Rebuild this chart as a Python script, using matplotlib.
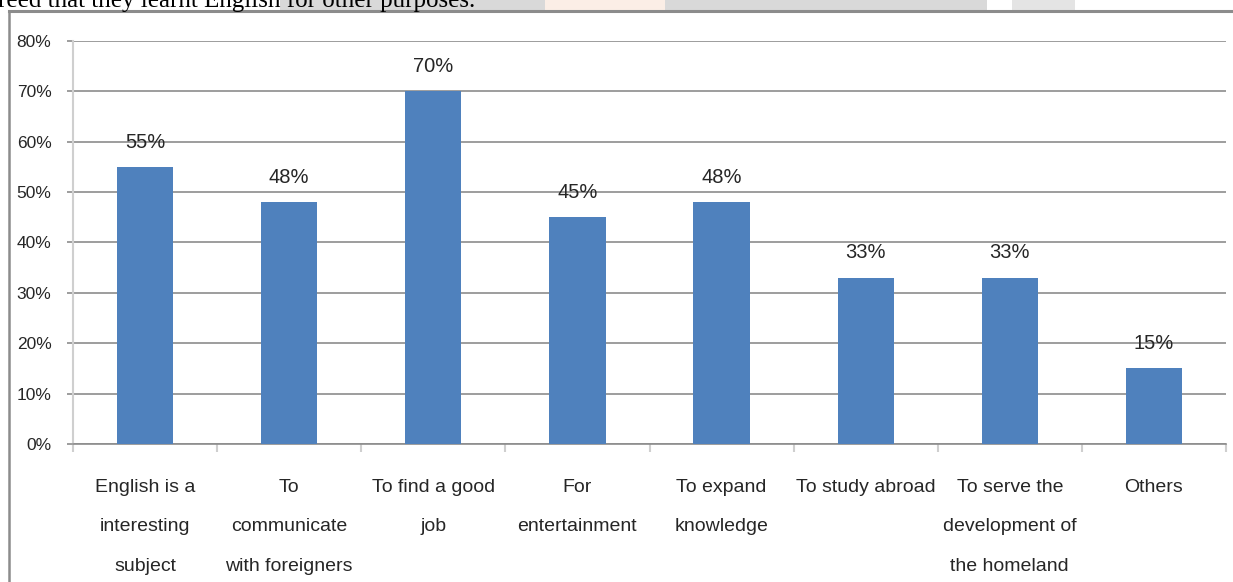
import matplotlib
matplotlib.use("Agg")
import matplotlib.pyplot as plt
from matplotlib.patches import Rectangle
from matplotlib.lines import Line2D
import numpy as np

categories = ["English is a\ninteresting\nsubject",
              "To\ncommunicate\nwith foreigners",
              "To find a good\njob",
              "For\nentertainment",
              "To expand\nknowledge",
              "To study abroad",
              "To serve the\ndevelopment of\nthe homeland",
              "Others"]
shares = [55, 48, 70, 45, 48, 33, 33, 15]
y_ticks = [0, 10, 20, 30, 40, 50, 60, 70, 80]

bar_color = "#4f81bd"
grid_color = "#8c8c8c"
axis_color = "#cfcfcf"
text_color = "#262626"
label_font = "Liberation Sans"

W, H = 1233, 582
fig = plt.figure(figsize=(W / 100, H / 100), dpi=100)

# scrap of the sentence above the figure and the faded watermark strip
fig.add_artist(Rectangle((280 / W, 1 - 10 / H), 265 / W, 10 / H, transform=fig.transFigure,
                         color="#d9d9d9", lw=0, zorder=0))
fig.add_artist(Rectangle((545 / W, 1 - 10 / H), 120 / W, 10 / H, transform=fig.transFigure,
                         color="#fbeee6", lw=0, zorder=0))
fig.add_artist(Rectangle((665 / W, 1 - 10 / H), 322 / W, 10 / H, transform=fig.transFigure,
                         color="#d9d9d9", lw=0, zorder=0))
fig.add_artist(Rectangle((1012 / W, 1 - 10 / H), 63 / W, 10 / H, transform=fig.transFigure,
                         color="#e4e4e4", lw=0, zorder=0))
fig.text(-2 / W, 1 - 7 / H, "reed that they learnt English for other purposes.",
         family="Liberation Serif", fontsize=18, color="black", va="baseline", ha="left")

# chart frame
fig.add_artist(Line2D([9 / W, 1], [1 - 11 / H, 1 - 11 / H], transform=fig.transFigure,
                      color=grid_color, lw=2.2))
fig.add_artist(Line2D([9 / W, 9 / W], [0, 1 - 11 / H], transform=fig.transFigure,
                      color=grid_color, lw=1.8))

ax = fig.add_axes([73 / W, 138 / H, (1226 - 73) / W, (444 - 41) / H])
x = np.arange(len(categories))
ax.bar(x, shares, width=0.39, color=bar_color, zorder=3)

for xi, v in zip(x, shares):
    ax.annotate(f"{v}%", (xi, v), xytext=(0, 11), textcoords="offset points",
                ha="center", va="bottom", family=label_font, fontsize=14.5, color=text_color)

ax.set_xlim(-0.5, len(categories) - 0.5)
ax.set_ylim(0, 80)
ax.set_yticks(y_ticks)
ax.set_yticklabels([f"{t}%" for t in y_ticks], family=label_font, fontsize=12.5, color=text_color)
ax.yaxis.grid(True, color=grid_color, lw=1.2, zorder=0)
ax.tick_params(axis="y", length=4.5, color=grid_color, width=1.2, pad=11)

ax.set_xticks(x)
ax.set_xticklabels(categories, family=label_font, fontsize=14, color=text_color,
                   linespacing=2.75, va="top")
ax.set_xticks(np.arange(len(categories) + 1) - 0.5, minor=True)
ax.tick_params(axis="x", which="major", length=0, pad=25)
ax.tick_params(axis="x", which="minor", length=6, color=axis_color, width=1.5)

for side in ("top", "right"):
    ax.spines[side].set_visible(False)
ax.spines["left"].set_color(axis_color)
ax.spines["left"].set_linewidth(1.5)
ax.spines["bottom"].set_color(grid_color)
ax.spines["bottom"].set_linewidth(1.2)

fig.savefig("out.png", dpi=100)
